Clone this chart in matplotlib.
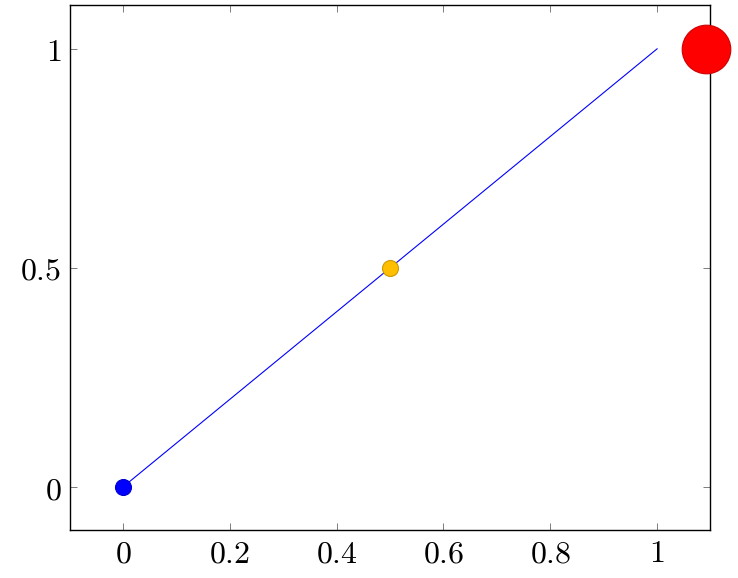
import matplotlib
matplotlib.use("Agg")
import matplotlib.pyplot as plt

plt.rcParams['mathtext.fontset'] = 'cm'
plt.rcParams['font.family'] = 'serif'
plt.rcParams['font.serif'] = ['DejaVu Serif']

line_x = [0, 1]
line_y = [0, 1]
pt_x = [0, 0.5, 1.092]
pt_y = [0, 0.5, 1]
pt_colors = ['#0000ff', '#ffbf00', '#ff0000']
pt_edges = ['#0000cc', '#cc9900', '#cc0000']
pt_sizes = [11.5, 11.5, 35]

xticks = [0, 0.2, 0.4, 0.6, 0.8, 1]
yticks = [0, 0.5, 1]

fig = plt.figure(figsize=(7.38, 5.78), dpi=100)
ax = fig.add_axes([70/738, 48/578, 640/738, 525/578])
ax.plot(line_x, line_y, color='#0000ff', lw=0.8, zorder=2)
for x, y, c, e, s in zip(pt_x, pt_y, pt_colors, pt_edges, pt_sizes):
    ax.plot([x], [y], 'o', ms=s, mfc=c, mec=e, mew=0.8, zorder=3, clip_on=False)
ax.set_xlim(-0.099, 1.099)
ax.set_ylim(-0.098, 1.1)
ax.set_xticks(xticks)
ax.set_xticklabels([f'${t:g}$' for t in xticks])
ax.set_yticks(yticks)
ax.set_yticklabels([f'${t:g}$' for t in yticks])
ax.tick_params(direction='in', top=True, right=True, labelsize=23, length=5, width=0.6, color='#666666', pad=6)
for s in ax.spines.values():
    s.set_linewidth(1.0)
fig.savefig('out.png', dpi=100)
